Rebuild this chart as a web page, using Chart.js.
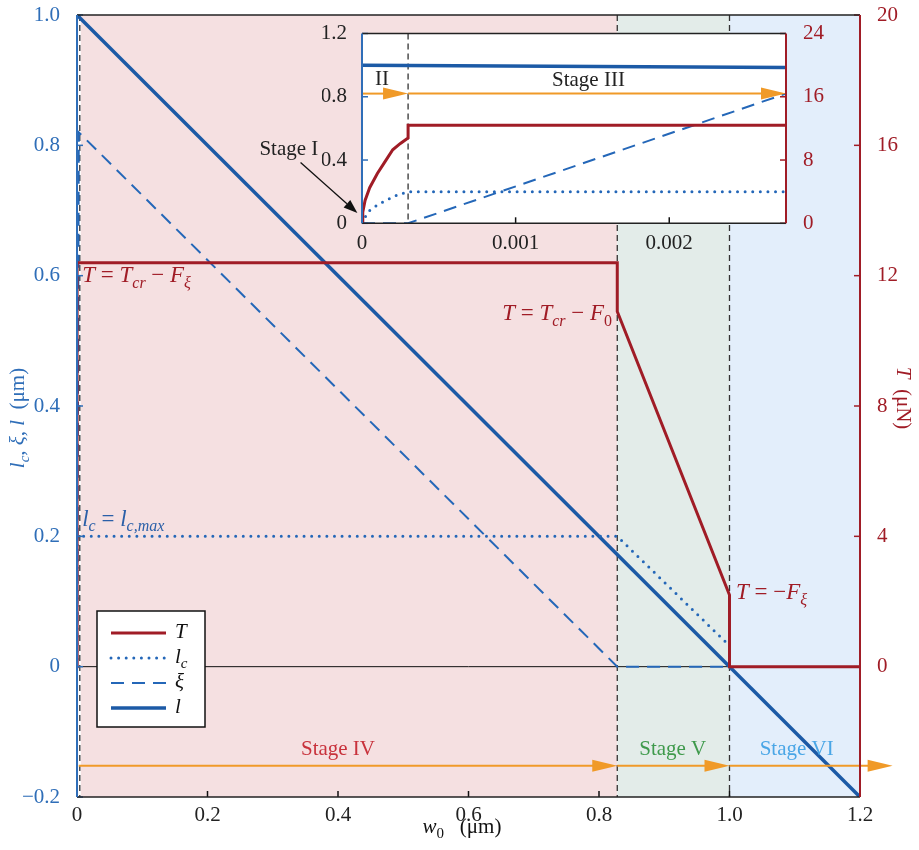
<!DOCTYPE html>
<html>
<head>
<meta charset="utf-8">
<script src="https://cdn.jsdelivr.net/npm/chart.js@4.4.1/dist/chart.umd.min.js"></script>
<style>
  html, body { margin: 0; padding: 0; background: #fff; }
  #wrap { position: relative; width: 919px; height: 850px; }
  canvas { position: absolute; left: 0; top: 0; }
  #inset { pointer-events: none; }
</style>
</head>
<body>
<div id="wrap">
  <canvas id="main" width="919" height="850"></canvas>
  <canvas id="inset" width="919" height="850"></canvas>
</div>
<script>
// values, w0 in μm
const tW    = [0, 0.000005, 0.00002, 0.00005, 0.0001, 0.00015, 0.0002, 0.00025, 0.0003, 0.0003, 0.828, 0.828, 1.0, 1.0, 1.2];
const tVal  = [0, 1.4, 2.9, 4.5, 6.3, 7.8, 9.3, 10.1, 10.8, 12.4, 12.4, 10.9, 2.2, 0, 0];
const lcW   = [0, 0.00004, 0.0001, 0.00016, 0.00023, 0.0003, 0.828, 0.996];
const lcVal = [0, 0.074, 0.116, 0.147, 0.179, 0.2, 0.2, 0.036];
const xiW   = [0, 0.0003, 0.00276, 0.828, 1.0];
const xiVal = [0, 0, 0.82, 0, 0];
const lW    = [0, 1.2];
const lVal  = [1.0, -0.2];

// stage boundaries (w0) and arrow rows
const stageEdges = [0, 0.00276, 0.828, 1.0, 1.2];
const insetEdge = 0.0003;
const arrowY = -0.152;
const arrowStops = [0.00276, 0.828, 1.0, 1.25];
const insetArrowY = 0.82;
const insetArrowStops = [0, 0.0003, 0.00276];

// ticks
const xTicks = [0, 0.2, 0.4, 0.6, 0.8, 1.0, 1.2];
const xTickLabels = ['0', '0.2', '0.4', '0.6', '0.8', '1.0', '1.2'];
const yTicks = [-0.2, 0, 0.2, 0.4, 0.6, 0.8, 1.0];
const yTickLabels = ['\u22120.2', '0', '0.2', '0.4', '0.6', '0.8', '1.0'];
const tTicks = [0, 4, 8, 12, 16, 20];
const insetXTicks = [0, 0.001, 0.002];
const insetXTickLabels = ['0', '0.001', '0.002'];
const insetYTicks = [0, 0.4, 0.8, 1.2];
const insetYTickLabels = ['0', '0.4', '0.8', '1.2'];
const insetTTicks = [0, 8, 16, 24];

// styles
const RED = '#a01c26';
const BLUE = '#1c5aa6';
const BLUE2 = '#2467b8';
const AXBLUE = '#2f6eb8';
const ORANGE = '#f09a28';
const stageColors = ['#ffffff', '#f5e0e1', '#e3ece9', '#e3eefb'];
const SERIF = '"Liberation Serif", "DejaVu Serif", serif';
const FS = 21;

const pts = (xs, ys) => xs.map((x, i) => ({ x: x, y: ys[i] }));

function makeDatasets() {
  return [
    { label: 'T', data: pts(tW, tVal), yAxisID: 'y1', borderColor: RED, borderWidth: 3 },
    { label: 'lc', data: pts(lcW, lcVal), yAxisID: 'y', borderColor: BLUE2, borderWidth: 3, borderDash: [0, 7.6], borderCapStyle: 'round' },
    { label: 'xi', data: pts(xiW, xiVal), yAxisID: 'y', borderColor: BLUE2, borderWidth: 2, borderDash: [13, 8] },
    { label: 'l', data: pts(lW, lVal), yAxisID: 'y', borderColor: BLUE, borderWidth: 3.5 }
  ].map(d => Object.assign({ pointRadius: 0, fill: false, tension: 0 }, d));
}

// text with italic / subscript parts: [text, flags]
function rich(ctx, parts, x, y, size, color, align) {
  const fontOf = f => (f.includes('i') ? 'italic ' : '') + (f.includes('s') ? Math.round(size * 0.7) : size) + 'px ' + SERIF;
  let w = 0;
  parts.forEach(([t, f = '']) => { ctx.font = fontOf(f); w += ctx.measureText(t).width; });
  let cx = align === 'center' ? x - w / 2 : align === 'right' ? x - w : x;
  ctx.fillStyle = color;
  ctx.textAlign = 'left';
  ctx.textBaseline = 'alphabetic';
  const base = y + size * 0.33;
  parts.forEach(([t, f = '']) => {
    ctx.font = fontOf(f);
    ctx.fillText(t, cx, base + (f.includes('s') ? size * 0.25 : 0));
    cx += ctx.measureText(t).width;
  });
}

function arrow(ctx, x0, x1, y, color) {
  const L = 25, H = 6;
  ctx.strokeStyle = color;
  ctx.lineWidth = 2;
  ctx.setLineDash([]);
  ctx.beginPath(); ctx.moveTo(x0, y); ctx.lineTo(x1 - L + 2, y); ctx.stroke();
  ctx.fillStyle = color;
  ctx.beginPath(); ctx.moveTo(x1, y); ctx.lineTo(x1 - L, y - H); ctx.lineTo(x1 - L, y + H); ctx.closePath(); ctx.fill();
}

function vline(ctx, x, top, bottom, color, width, dash) {
  ctx.strokeStyle = color; ctx.lineWidth = width; ctx.setLineDash(dash || []);
  ctx.beginPath(); ctx.moveTo(x, top); ctx.lineTo(x, bottom); ctx.stroke();
  ctx.setLineDash([]);
}
function hline(ctx, y, left, right, color, width) {
  ctx.strokeStyle = color; ctx.lineWidth = width; ctx.setLineDash([]);
  ctx.beginPath(); ctx.moveTo(left, y); ctx.lineTo(right, y); ctx.stroke();
}

function spinesAndTicks(chart, xt, yt, tt, len) {
  const ctx = chart.ctx, a = chart.chartArea;
  const sx = chart.scales.x, sy = chart.scales.y, st = chart.scales.y1;
  xt.forEach(v => vline(ctx, sx.getPixelForValue(v), a.bottom, a.bottom - len, '#111', 1.5));
  yt.forEach(v => hline(ctx, sy.getPixelForValue(v), a.left, a.left + len, AXBLUE, 1.5));
  tt.forEach(v => hline(ctx, st.getPixelForValue(v), a.right, a.right - len, RED, 1.5));
  hline(ctx, a.top, a.left, a.right, '#222', 1.5);
  hline(ctx, a.bottom, a.left, a.right, '#222', 1.5);
  vline(ctx, a.left, a.top, a.bottom, AXBLUE, 2);
  vline(ctx, a.right, a.top, a.bottom, RED, 2);
}

function fixedTicks(values) {
  return s => { s.ticks = values.map(v => ({ value: v })); };
}
// fixed axis size, and no extra room for the end labels
function fixSize(prop, px) {
  return s => { s[prop] = px; s.paddingTop = 0; s.paddingBottom = 0; s.paddingLeft = 0; s.paddingRight = 0; };
}

const mainDecor = {
  id: 'mainDecor',
  beforeDatasetsDraw(chart) {
    const ctx = chart.ctx, a = chart.chartArea, sx = chart.scales.x, sy = chart.scales.y;
    ctx.save();
    stageColors.forEach((c, i) => {
      const x0 = sx.getPixelForValue(stageEdges[i]), x1 = sx.getPixelForValue(stageEdges[i + 1]);
      ctx.fillStyle = c;
      ctx.fillRect(x0, a.top, x1 - x0, a.height);
    });
    hline(ctx, sy.getPixelForValue(0), a.left, a.right, '#111', 1);
    stageEdges.slice(1, -1).forEach((e, i) => {
      const px = sx.getPixelForValue(e);
      if (i === 0) vline(ctx, px + 1, a.top, a.bottom, '#fff', 2);
      vline(ctx, px + (i === 0 ? 1 : 0), a.top, a.bottom, '#333', 1.3, [6, 4]);
    });
    ctx.restore();
  },
  afterDatasetsDraw(chart) {
    const ctx = chart.ctx, a = chart.chartArea, sx = chart.scales.x, sy = chart.scales.y;
    ctx.save();
    // stage arrows
    for (let i = 0; i < arrowStops.length - 1; i++) {
      arrow(ctx, sx.getPixelForValue(arrowStops[i]), sx.getPixelForValue(arrowStops[i + 1]), sy.getPixelForValue(arrowY), ORANGE);
    }
    rich(ctx, [['Stage IV']], sx.getPixelForValue(0.40), sy.getPixelForValue(-0.125), FS, '#c8323c', 'center');
    rich(ctx, [['Stage V']], sx.getPixelForValue(0.913), sy.getPixelForValue(-0.125), FS, '#3f9a4c', 'center');
    rich(ctx, [['Stage VI']], sx.getPixelForValue(1.103), sy.getPixelForValue(-0.125), FS, '#4aa6e6', 'center');

    // annotations
    rich(ctx, [['T', 'i'], [' = '], ['T', 'i'], ['cr', 'is'], [' \u2212 '], ['F', 'i'], ['\u03be', 'is']],
      sx.getPixelForValue(0.008), sy.getPixelForValue(0.602), 23, RED, 'left');
    rich(ctx, [['T', 'i'], [' = '], ['T', 'i'], ['cr', 'is'], [' \u2212 '], ['F', 'i'], ['0', 's']],
      sx.getPixelForValue(0.82), sy.getPixelForValue(0.543), 23, RED, 'right');
    rich(ctx, [['T', 'i'], [' = \u2212'], ['F', 'i'], ['\u03be', 'is']],
      sx.getPixelForValue(1.01), sy.getPixelForValue(0.115), 23, RED, 'left');
    rich(ctx, [['l', 'i'], ['c', 'is'], [' = '], ['l', 'i'], ['c,max', 'is']],
      sx.getPixelForValue(0.008), sy.getPixelForValue(0.228), 23, '#2a5fa8', 'left');

    spinesAndTicks(chart, xTicks, yTicks, tTicks, 6);

    // legend
    const lx = a.left + 20, ly = 611, lw = 108, lh = 116;
    ctx.fillStyle = '#fff';
    ctx.fillRect(lx, ly, lw, lh);
    ctx.strokeStyle = '#111'; ctx.lineWidth = 1.5;
    ctx.strokeRect(lx, ly, lw, lh);
    const names = [[['T', 'i']], [['l', 'i'], ['c', 'is']], [['\u03be', 'i']], [['l', 'i']]];
    chart.data.datasets.forEach((d, i) => {
      const ry = ly + 22 + i * 25;
      ctx.strokeStyle = d.borderColor; ctx.lineWidth = d.borderWidth;
      ctx.lineCap = d.borderCapStyle || 'butt';
      ctx.setLineDash(d.borderDash || []);
      ctx.beginPath(); ctx.moveTo(lx + 14, ry); ctx.lineTo(lx + 69, ry); ctx.stroke();
      ctx.setLineDash([]); ctx.lineCap = 'butt';
      rich(ctx, names[i], lx + 78, ry - 2, FS, '#111', 'left');
    });

    // axis titles
    ctx.save();
    ctx.translate(17, 418); ctx.rotate(-Math.PI / 2);
    rich(ctx, [['l', 'i'], ['c', 'is'], [', '], ['\u03be', 'i'], [', '], ['l', 'i'], ['  (\u03bcm)']], 0, 0, FS, AXBLUE, 'center');
    ctx.restore();
    ctx.save();
    ctx.translate(904, 398); ctx.rotate(Math.PI / 2);
    rich(ctx, [['T', 'i'], ['  (\u03bcN)']], 0, 0, FS, RED, 'center');
    ctx.restore();
    rich(ctx, [['w', 'i'], ['0', 's'], ['   (\u03bcm)']], 462, 826, FS, '#111', 'center');
    ctx.restore();
  }
};

const insetDecor = {
  id: 'insetDecor',
  beforeDatasetsDraw(chart) {
    const ctx = chart.ctx, a = chart.chartArea, sx = chart.scales.x;
    ctx.save();
    ctx.fillStyle = '#fff';
    ctx.fillRect(a.left, a.top, a.width, a.height);
    vline(ctx, sx.getPixelForValue(insetEdge), a.top, a.bottom, '#333', 1.3, [6, 4]);
    ctx.restore();
  },
  afterDatasetsDraw(chart) {
    const ctx = chart.ctx, sx = chart.scales.x, sy = chart.scales.y;
    ctx.save();
    for (let i = 0; i < insetArrowStops.length - 1; i++) {
      arrow(ctx, sx.getPixelForValue(insetArrowStops[i]), sx.getPixelForValue(insetArrowStops[i + 1]), sy.getPixelForValue(insetArrowY), ORANGE);
    }
    rich(ctx, [['II']], sx.getPixelForValue(0.00013), sy.getPixelForValue(0.918), FS, '#222', 'center');
    rich(ctx, [['Stage III']], sx.getPixelForValue(0.001474), sy.getPixelForValue(0.91), FS, '#222', 'center');
    rich(ctx, [['Stage I']], sx.getPixelForValue(-0.000476), sy.getPixelForValue(0.476), FS, '#222', 'center');
    // pointer to stage I
    const x0 = sx.getPixelForValue(-0.0004), y0 = sy.getPixelForValue(0.385);
    const x1 = sx.getPixelForValue(-0.00003), y1 = sy.getPixelForValue(0.065);
    const ang = Math.atan2(y1 - y0, x1 - x0), L = 14, H = 5;
    ctx.strokeStyle = '#111'; ctx.lineWidth = 1.3;
    ctx.beginPath(); ctx.moveTo(x0, y0); ctx.lineTo(x1 - L * Math.cos(ang), y1 - L * Math.sin(ang)); ctx.stroke();
    ctx.fillStyle = '#111';
    ctx.beginPath();
    ctx.moveTo(x1, y1);
    ctx.lineTo(x1 - L * Math.cos(ang) + H * Math.sin(ang), y1 - L * Math.sin(ang) - H * Math.cos(ang));
    ctx.lineTo(x1 - L * Math.cos(ang) - H * Math.sin(ang), y1 - L * Math.sin(ang) + H * Math.cos(ang));
    ctx.closePath(); ctx.fill();
    spinesAndTicks(chart, insetXTicks, insetYTicks, insetTTicks, 6);
    ctx.restore();
  }
};

const tickFont = { family: SERIF, size: FS };
const noGrid = { display: false };
const noBorder = { display: false };

new Chart(document.getElementById('main'), {
  type: 'line',
  data: { datasets: makeDatasets() },
  options: {
    responsive: false,
    animation: false,
    events: [],
    layout: { padding: { top: 15, left: 0, right: 0, bottom: 0 } },
    plugins: { legend: { display: false }, tooltip: { enabled: false } },
    scales: {
      x: {
        type: 'linear', min: 0, max: 1.2,
        grid: noGrid, border: noBorder,
        afterBuildTicks: fixedTicks(xTicks),
        afterFit: fixSize('height', 53),
        ticks: { font: tickFont, color: '#222', padding: -2, maxRotation: 0, callback: (v, i) => xTickLabels[i] }
      },
      y: {
        type: 'linear', position: 'left', min: -0.2, max: 1.0,
        grid: noGrid, border: noBorder,
        afterBuildTicks: fixedTicks(yTicks),
        afterFit: fixSize('width', 77),
        ticks: { font: tickFont, color: AXBLUE, padding: 9, callback: (v, i) => yTickLabels[i] }
      },
      y1: {
        type: 'linear', position: 'right', min: -4, max: 20,
        grid: noGrid, border: noBorder,
        afterBuildTicks: fixedTicks(tTicks),
        afterFit: fixSize('width', 59),
        ticks: { font: tickFont, color: RED, padding: 9, callback: (v, i) => String(tTicks[i]) }
      }
    }
  },
  plugins: [mainDecor]
});

new Chart(document.getElementById('inset'), {
  type: 'line',
  data: { datasets: makeDatasets() },
  options: {
    responsive: false,
    animation: false,
    events: [],
    layout: { padding: { top: 33.5, left: 322, right: 93, bottom: 596.7 } },
    plugins: { legend: { display: false }, tooltip: { enabled: false } },
    scales: {
      x: {
        type: 'linear', min: 0, max: 0.00276,
        grid: noGrid, border: noBorder,
        afterBuildTicks: fixedTicks(insetXTicks),
        afterFit: fixSize('height', 30),
        ticks: { font: tickFont, color: '#222', padding: 0, maxRotation: 0, callback: (v, i) => insetXTickLabels[i] }
      },
      y: {
        type: 'linear', position: 'left', min: 0, max: 1.2,
        grid: noGrid, border: noBorder,
        afterBuildTicks: fixedTicks(insetYTicks),
        afterFit: fixSize('width', 40),
        ticks: { font: tickFont, color: '#222', padding: 7, callback: (v, i) => insetYTickLabels[i] }
      },
      y1: {
        type: 'linear', position: 'right', min: 0, max: 24,
        grid: noGrid, border: noBorder,
        afterBuildTicks: fixedTicks(insetTTicks),
        afterFit: fixSize('width', 40),
        ticks: { font: tickFont, color: RED, padding: 9, callback: (v, i) => String(insetTTicks[i]) }
      }
    }
  },
  plugins: [insetDecor]
});
</script>
</body>
</html>
